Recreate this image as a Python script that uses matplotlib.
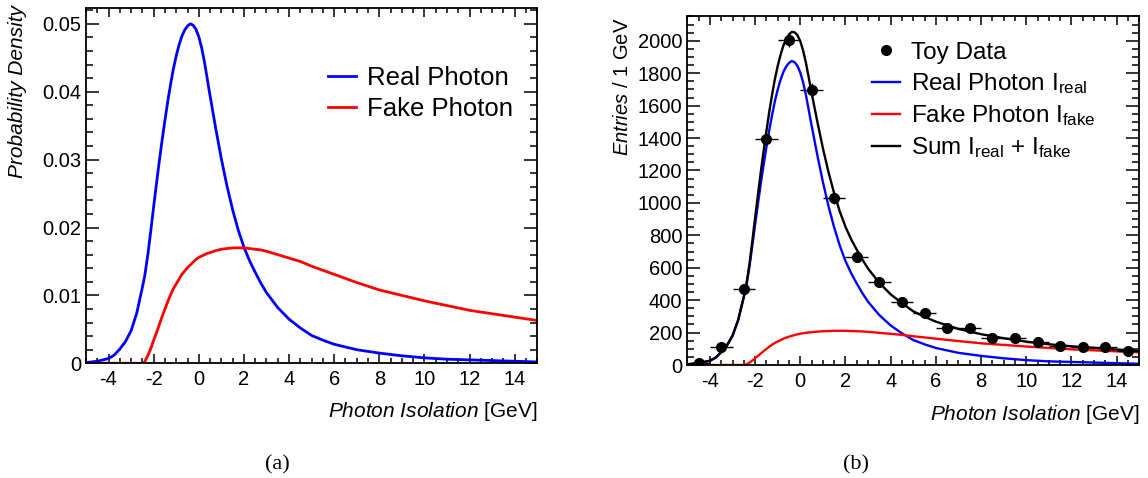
import numpy as np
import matplotlib
matplotlib.use("Agg")
import matplotlib.pyplot as plt
from matplotlib.ticker import MultipleLocator, FuncFormatter

plt.rcParams['font.family'] = ['Liberation Sans', 'DejaVu Sans']
plt.rcParams['mathtext.fontset'] = 'custom'
plt.rcParams['mathtext.rm'] = 'Liberation Sans'
plt.rcParams['mathtext.it'] = 'Liberation Sans:italic'
plt.rcParams['axes.unicode_minus'] = False

# isolation grid [GeV] and the two template shapes
iso = [-5.0, -4.5, -4.0, -3.75, -3.5, -3.25, -3.0, -2.75, -2.5, -2.4,
       -2.25, -2.125, -2.0, -1.875, -1.75, -1.625, -1.5, -1.375, -1.25, -1.125,
       -1.0, -0.875, -0.75, -0.625, -0.5, -0.375, -0.25, -0.125, 0.0, 0.125,
       0.25, 0.375, 0.5, 0.75, 1.0, 1.25, 1.5, 1.75, 2.0, 2.25,
       2.5, 2.75, 3.0, 3.5, 4.0, 4.5, 5.0, 5.5, 6.0, 6.5,
       7.0, 8.0, 9.0, 10.0, 11.0, 12.0, 13.0, 14.0, 15.0]
pdf_real = [0.0001, 0.0003, 0.0007, 0.0012, 0.0021, 0.0032, 0.0048, 0.0074, 0.0112, 0.0128,
            0.0162, 0.0196, 0.0231, 0.0265, 0.0298, 0.0329, 0.0358, 0.0386, 0.0411, 0.0434,
            0.0453, 0.0469, 0.0482, 0.0491, 0.0497, 0.0500, 0.0498, 0.0492, 0.0481, 0.0465,
            0.0444, 0.0419, 0.0394, 0.0346, 0.0301, 0.0261, 0.0226, 0.0196, 0.0171, 0.0151,
            0.0134, 0.0118, 0.0104, 0.0082, 0.0065, 0.0052, 0.0041, 0.0034, 0.0028, 0.0024,
            0.0020, 0.0015, 0.0011, 0.0008, 0.0006, 0.0005, 0.0004, 0.0003, 0.0002]
pdf_fake = [0.0, 0.0, 0.0, 0.0, 0.0, 0.0, 0.0, 0.0, 0.0, 0.0002,
            0.0012, 0.0022, 0.0034, 0.0045, 0.0057, 0.0069, 0.0080, 0.0091, 0.0101, 0.0110,
            0.0117, 0.0124, 0.0131, 0.0136, 0.0141, 0.0145, 0.0149, 0.0153, 0.0156, 0.0158,
            0.0160, 0.0162, 0.0163, 0.0166, 0.0168, 0.0169, 0.0170, 0.0170, 0.0170, 0.0169,
            0.0168, 0.0167, 0.0165, 0.0160, 0.0155, 0.0150, 0.0143, 0.0137, 0.0131, 0.0125,
            0.0119, 0.0108, 0.0100, 0.0092, 0.0085, 0.0078, 0.0073, 0.0068, 0.0063]

# toy data, 1 GeV bins
bin_centers = [-4.5, -3.5, -2.5, -1.5, -0.5, 0.5, 1.5, 2.5, 3.5, 4.5,
               5.5, 6.5, 7.5, 8.5, 9.5, 10.5, 11.5, 12.5, 13.5, 14.5]
entries = [14, 109, 469, 1393, 2008, 1696, 1028, 668, 514, 390,
           319, 226, 226, 164, 168, 144, 117, 111, 113, 86]

# fitted yields
n_real = 37500
n_fake = 12400

fig = plt.figure(figsize=(11.48, 4.78), dpi=100)
ax1 = fig.add_axes([0.0749, 0.2400, 0.3931, 0.7427])
ax2 = fig.add_axes([0.5987, 0.2364, 0.3937, 0.7308])

lw = 2.0
ax1.plot(iso, pdf_real, color='blue', lw=lw, label='Real Photon')
ax1.plot(iso, pdf_fake, color='red', lw=lw, label='Fake Photon')

real = n_real * np.array(pdf_real)
fake = n_fake * np.array(pdf_fake)
ax2.plot(iso, real, color='blue', lw=1.7, label=r'Real Photon $\mathregular{I_{real}}$')
ax2.plot(iso, fake, color='red', lw=1.7, label=r'Fake Photon $\mathregular{I_{fake}}$')
ax2.plot(iso, real + fake, color='black', lw=1.7,
         label=r'Sum $\mathregular{I_{real}}$ + $\mathregular{I_{fake}}$')
ax2.errorbar(bin_centers, entries, xerr=0.5, yerr=np.sqrt(entries), fmt='none',
             ecolor='black', elinewidth=1.0, capsize=0, zorder=4)
ax2.plot(bin_centers, entries, 'o', color='black', ms=7, zorder=5, label='Toy Data')

ax1.set_xlim(-5, 15)
ax1.set_ylim(0, 0.0523)
ax2.set_xlim(-5, 15)
ax2.set_ylim(0, 2155)

for ax in (ax1, ax2):
    ax.xaxis.set_major_locator(MultipleLocator(2))
    ax.xaxis.set_minor_locator(MultipleLocator(0.5))
    ax.tick_params(axis='both', which='both', direction='in', top=True, right=True,
                   labelsize=14.5, width=1.1)
    ax.tick_params(axis='x', which='major', length=6.5, pad=5)
    ax.tick_params(axis='x', which='minor', length=3.6)
    ax.tick_params(axis='y', which='major', length=9.4, pad=3.5)
    ax.tick_params(axis='y', which='minor', length=5)
    for s in ax.spines.values():
        s.set_linewidth(1.3)
    ax.set_xlabel(r'$\mathit{Photon\ Isolation}$ [GeV]', fontsize=15, loc='right')

ax1.yaxis.set_major_locator(MultipleLocator(0.01))
ax1.yaxis.set_minor_locator(MultipleLocator(0.002))
ax1.yaxis.set_major_formatter(FuncFormatter(lambda v, p: '0' if v == 0 else f'{v:.2f}'))
ax2.yaxis.set_major_locator(MultipleLocator(200))
ax2.yaxis.set_minor_locator(MultipleLocator(50))
ax2.yaxis.set_major_formatter(FuncFormatter(lambda v, p: f'{v:.0f}'))

ax1.set_ylabel('Probability Density', fontsize=15, style='italic', loc='top')
ax2.set_ylabel(r'$\mathit{Entries}$ / 1 GeV', fontsize=14.5, loc='top')
ax1.yaxis.set_label_coords(-0.131, 1.01)
ax2.yaxis.set_label_coords(-0.122, 0.993)
ax1.xaxis.set_label_coords(1.0, -0.103)
ax2.xaxis.set_label_coords(1.0, -0.109)

ax1.legend(loc='upper left', bbox_to_anchor=(0.536, 0.838), frameon=False,
           fontsize=18.5, handlelength=1.1, handletextpad=0.42, labelspacing=0.3,
           borderpad=0, borderaxespad=0)

h, l = ax2.get_legend_handles_labels()
order = [3, 0, 1, 2]
ax2.legend([h[i] for i in order], [l[i] for i in order], loc='upper left',
           bbox_to_anchor=(0.408, 0.925), frameon=False, fontsize=17.5,
           handlelength=1.18, handletextpad=0.42, labelspacing=0.30,
           borderpad=0, borderaxespad=0)

fig.text(277 / 1148, 1 - 465 / 478, '(a)', family=['Liberation Serif', 'DejaVu Serif'],
         fontsize=16, ha='center', va='center')
fig.text(856 / 1148, 1 - 465 / 478, '(b)', family=['Liberation Serif', 'DejaVu Serif'],
         fontsize=16, ha='center', va='center')

fig.savefig('out.png', dpi=100)
